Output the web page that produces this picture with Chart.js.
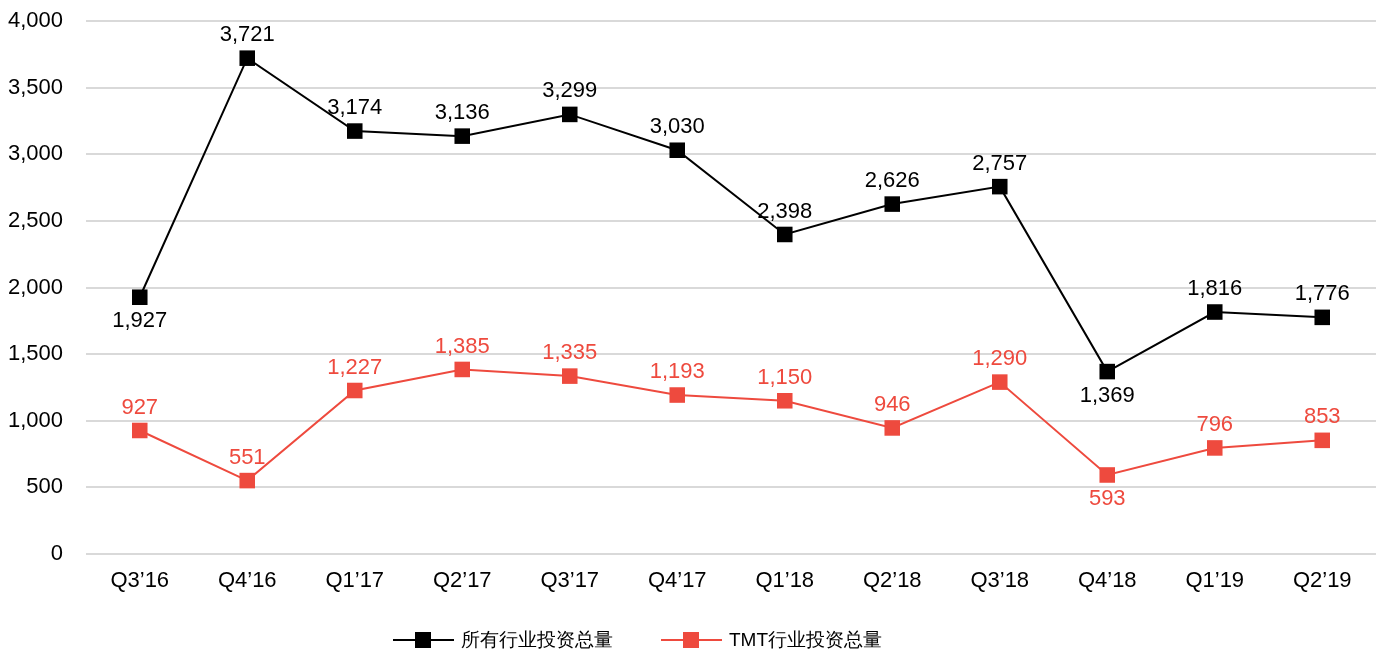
<!DOCTYPE html>
<html>
<head>
<meta charset="utf-8">
<script src="https://cdn.jsdelivr.net/npm/chart.js@4"></script>
<style>
  html, body { margin: 0; padding: 0; background: #fff; }
  #wrap { width: 1387px; height: 655px; }
</style>
</head>
<body>
<div id="wrap"><canvas id="invChart" width="1387" height="655"></canvas></div>
<script>
const quarters = ["Q3\u201916","Q4\u201916","Q1\u201917","Q2\u201917","Q3\u201917","Q4\u201917",
                  "Q1\u201918","Q2\u201918","Q3\u201918","Q4\u201918","Q1\u201919","Q2\u201919"];
const allIndustry = [1927, 3721, 3174, 3136, 3299, 3030, 2398, 2626, 2757, 1369, 1816, 1776];
const tmtIndustry = [927, 551, 1227, 1385, 1335, 1193, 1150, 946, 1290, 593, 796, 853];
// where each value label sits: 'a' above the point, 'b' below
const allLabelSide = ['b','a','a','a','a','a','a','a','a','b','a','a'];
const tmtLabelSide = ['a','a','a','a','a','a','a','a','a','b','a','a'];
const yTicks = [0, 500, 1000, 1500, 2000, 2500, 3000, 3500, 4000];

const BLACK = '#000000';
const RED = '#ee4a3e';
const FONT = '"Liberation Sans", Arial, Helvetica, sans-serif';

const valueLabels = {
  id: 'valueLabels',
  afterDatasetsDraw(chart) {
    const ctx = chart.ctx;
    const sides = [allLabelSide, tmtLabelSide];
    ctx.save();
    ctx.font = '22px ' + FONT;
    ctx.textAlign = 'center';
    ctx.textBaseline = 'middle';
    chart.data.datasets.forEach((ds, i) => {
      const meta = chart.getDatasetMeta(i);
      ctx.fillStyle = ds.borderColor;
      meta.data.forEach((pt, j) => {
        const dy = sides[i][j] === 'b' ? 24 : -23;
        ctx.fillText(ds.data[j].toLocaleString('en-US'), pt.x, pt.y + dy);
      });
    });
    ctx.restore();
  }
};

// legend drawn by hand: line with a square marker, then the series name
const lineLegend = {
  id: 'lineLegend',
  afterDraw(chart) {
    const ctx = chart.ctx;
    const starts = [393, 661];
    const y = 640;
    ctx.save();
    ctx.font = '19px ' + FONT;
    ctx.textBaseline = 'middle';
    ctx.textAlign = 'left';
    chart.data.datasets.forEach((ds, i) => {
      const x = starts[i];
      ctx.strokeStyle = ds.borderColor;
      ctx.lineWidth = 2;
      ctx.beginPath(); ctx.moveTo(x, y); ctx.lineTo(x + 61, y); ctx.stroke();
      ctx.fillStyle = ds.borderColor;
      ctx.fillRect(x + 22, y - 8, 16, 16);
      ctx.fillStyle = '#000';
      ctx.fillText(ds.label, x + 68, y + 1);
    });
    ctx.restore();
  }
};

const ctx = document.getElementById('invChart').getContext('2d');
new Chart(ctx, {
  type: 'line',
  data: {
    labels: quarters,
    datasets: [
      {
        label: '所有行业投资总量',
        data: allIndustry,
        borderColor: BLACK,
        backgroundColor: BLACK,
        borderWidth: 2,
        pointStyle: 'rect',
        pointRadius: 11,
        pointBorderWidth: 0,
        tension: 0
      },
      {
        label: 'TMT行业投资总量',
        data: tmtIndustry,
        borderColor: RED,
        backgroundColor: RED,
        borderWidth: 2,
        pointStyle: 'rect',
        pointRadius: 11,
        pointBorderWidth: 0,
        tension: 0
      }
    ]
  },
  options: {
    responsive: false,
    animation: false,
    layout: { padding: { left: 0, right: 1, top: 21, bottom: 0 } },
    plugins: {
      tooltip: { enabled: false },
      legend: { display: false }
    },
    scales: {
      x: {
        offset: true,
        grid: { display: false, drawTicks: false },
        border: { display: false },
        afterFit(axis) { axis.height = 101; },
        ticks: { color: '#000', font: { family: FONT, size: 22 }, padding: 14, maxRotation: 0 }
      },
      y: {
        min: 0,
        max: 4000,
        afterBuildTicks(axis) { axis.ticks = yTicks.map(v => ({ value: v })); },
        afterFit(axis) { axis.width = 86; axis.paddingTop = 0; axis.paddingBottom = 0; },
        grid: { color: '#d9d9d9', lineWidth: 2, drawTicks: false },
        border: { display: false },
        ticks: {
          color: '#000',
          font: { family: FONT, size: 22 },
          padding: 23,
          callback: v => v.toLocaleString('en-US')
        }
      }
    }
  },
  plugins: [valueLabels, lineLegend]
});
</script>
</body>
</html>
